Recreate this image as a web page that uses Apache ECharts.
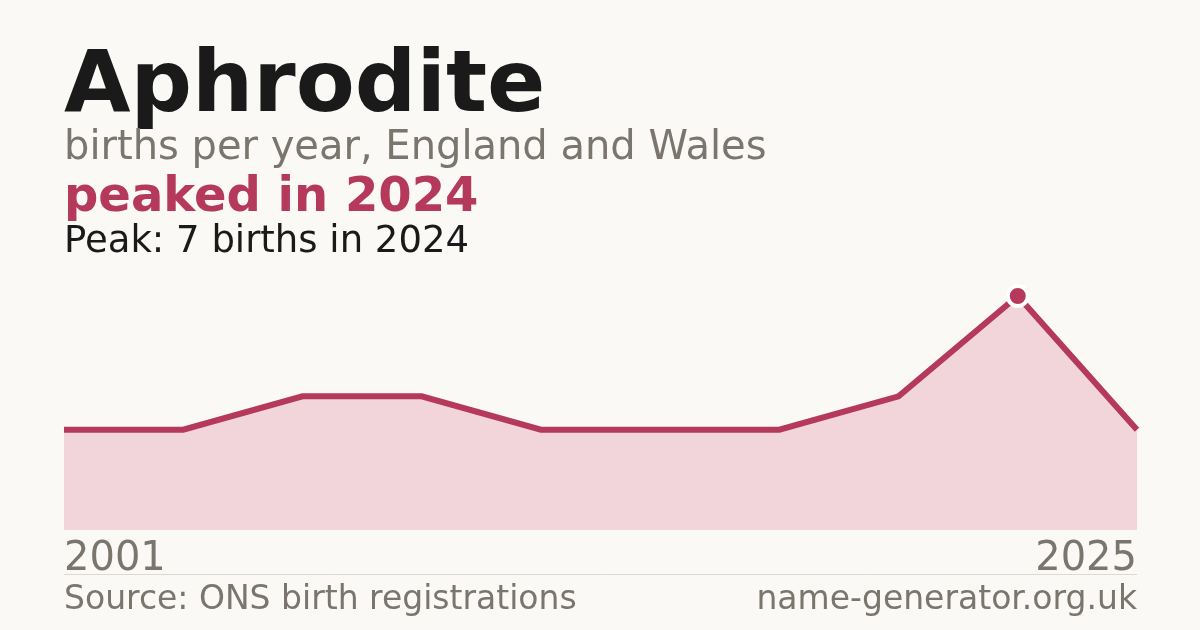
<!DOCTYPE html>
<html>
<head>
<meta charset="utf-8">
<script src="https://cdn.jsdelivr.net/npm/echarts@6/dist/echarts.min.js"></script>
<style>
html,body{margin:0;padding:0;background:#faf9f5;}
#chart{width:1200px;height:630px;}
</style>
</head>
<body>
<div id="chart"></div>
<script>
const years = ['2001','2004','2007','2010','2013','2016','2019','2022','2024','2025'];
const births = [3, 3, 4, 4, 3, 3, 3, 4, 7, 3];
const titleText = 'Aphrodite';
const subtitleText = 'births per year, England and Wales';
const headlineText = 'peaked in 2024';
const peakText = 'Peak: 7 births in 2024';
const sourceText = 'Source: ONS birth registrations';
const siteText = 'name-generator.org.uk';

const RED = '#b5395a';
const GREY = '#7a756d';
const FONT = 'DejaVu Sans';

const peakVal = Math.max(...births);
const peakIdx = births.indexOf(peakVal);
const peakData = births.map((v, i) => (i === peakIdx ? v : null));

const chart = echarts.init(document.getElementById('chart'), null, {renderer: 'canvas'});
chart.setOption({
  backgroundColor: '#faf9f5',
  animation: false,
  grid: {left: 64, right: 63, top: 296, bottom: 100, containLabel: false},
  xAxis: {
    type: 'category',
    data: years,
    boundaryGap: false,
    axisLine: {show: false},
    axisTick: {show: false},
    splitLine: {show: false},
    axisLabel: {
      interval: function (i) { return i === 0 || i === years.length - 1; },
      showMinLabel: true,
      showMaxLabel: true,
      alignMinLabel: 'left',
      alignMaxLabel: 'right',
      margin: 10,
      color: GREY,
      fontFamily: FONT,
      fontSize: 40,
      verticalAlign: 'top'
    }
  },
  yAxis: {
    type: 'value',
    min: 0,
    max: peakVal,
    show: false,
    splitLine: {show: false}
  },
  series: [
    {
      type: 'line',
      data: births,
      symbol: 'none',
      lineStyle: {color: RED, width: 6, cap: 'butt', join: 'miter'},
      areaStyle: {color: '#f1d5da', opacity: 1},
      z: 2
    },
    {
      type: 'line',
      data: peakData,
      symbol: 'circle',
      symbolSize: 20,
      showSymbol: true,
      lineStyle: {width: 0},
      itemStyle: {color: RED, borderColor: '#ffffff', borderWidth: 4},
      z: 3
    }
  ],
  graphic: [
    {type: 'text', left: 64, top: 46, style: {text: titleText, font: 'bold 86px "DejaVu Sans"', fill: '#1a1a1a'}},
    {type: 'text', left: 64, top: 129, style: {text: subtitleText, font: '40px "DejaVu Sans"', fill: GREY}},
    {type: 'text', left: 64, top: 175, style: {text: headlineText, font: 'bold 48px "DejaVu Sans"', fill: RED}},
    {type: 'text', left: 64, top: 224, style: {text: peakText, font: '37px "DejaVu Sans"', fill: '#1a1a1a'}},
    {type: 'line', shape: {x1: 64, y1: 574.5, x2: 1137, y2: 574.5}, style: {stroke: '#dcd9d2', lineWidth: 1}},
    {type: 'text', left: 64, top: 584, style: {text: sourceText, font: '33px "DejaVu Sans"', fill: GREY}},
    {type: 'text', right: 63, top: 584, style: {text: siteText, font: '33px "DejaVu Sans"', fill: GREY}}
  ]
});
</script>
</body>
</html>
